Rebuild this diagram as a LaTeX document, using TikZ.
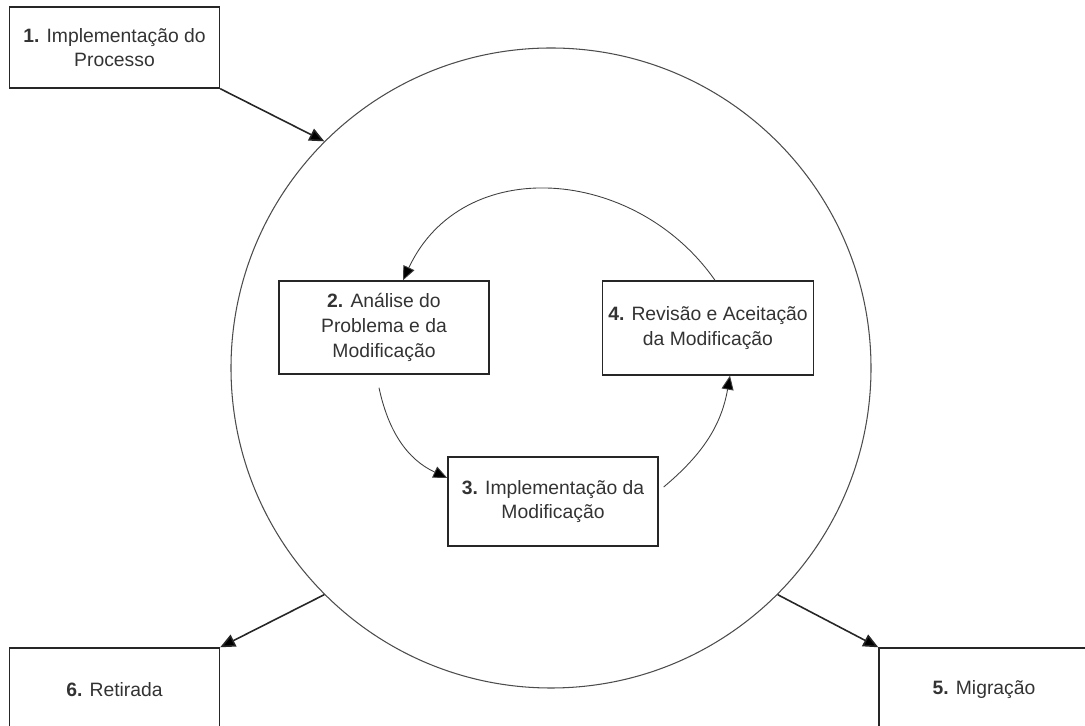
\documentclass[tikz,border=0pt]{standalone}
\usepackage{fontspec}
\setmainfont{Liberation Sans}
\usepackage{tikz}
\usetikzlibrary{arrows.meta}

\begin{document}
\begin{tikzpicture}[
    caixa/.style={draw=black!85, line width=0.8pt, minimum width=4.2cm, align=center, text=black!80, font=\fontsize{11}{14}\selectfont},
    seta/.style={-{Triangle[length=0.3cm,width=0.26cm,fill=black]}, line width=0.9pt, draw=black!85},
    curva/.style={-{Triangle[length=0.28cm,width=0.24cm,fill=black]}, line width=0.5pt, draw=black!75}
  ]
    \useasboundingbox (0,0) rectangle (21.7,14.52);

    \node[draw=black!70, line width=0.6pt, circle, minimum size=12.8cm] at (11.02,7.16) (ciclo) {};

    \node[caixa, minimum height=1.62cm] at (2.29,13.57) (fase1) {\textbf{1.} Implementação do\\Processo};
    \node[caixa, minimum height=1.86cm] at (7.68,7.97) (fase2) {\textbf{2.} Análise do\\Problema e da\\Modificação};
    \node[caixa, minimum height=1.78cm] at (11.06,4.49) (fase3) {\textbf{3.} Implementação da\\Modificação};
    \node[caixa, minimum height=1.88cm] at (14.16,7.96) (fase4) {\textbf{4.} Revisão e Aceitação\\da Modificação};
    \node[caixa, minimum height=1.68cm] at (19.68,0.72) (fase5) {\textbf{5.} Migração};
    \node[caixa, minimum height=1.68cm] at (2.29,0.72) (fase6) {\textbf{6.} Retirada};

    % entrada e saidas do ciclo
    \draw[seta] (fase1.south east) -- (ciclo.135);
    \draw[seta] (ciclo.-135) -- (fase6.north east);
    \draw[seta] (ciclo.-45) -- (fase5.north west);

    % ciclo interno
    \draw[curva] ([xshift=0.14cm]fase4.north) to[out=125, in=65, looseness=1.15] ([xshift=0.38cm]fase2.north);
    \draw[curva] ([xshift=-0.1cm, yshift=-0.26cm]fase2.south) to[out=-78, in=155] ([yshift=0.47cm]fase3.west);
    \draw[curva] ([xshift=0.1cm, yshift=0.29cm]fase3.east) to[out=40, in=-100] ([xshift=0.44cm]fase4.south);
\end{tikzpicture}
\end{document}
